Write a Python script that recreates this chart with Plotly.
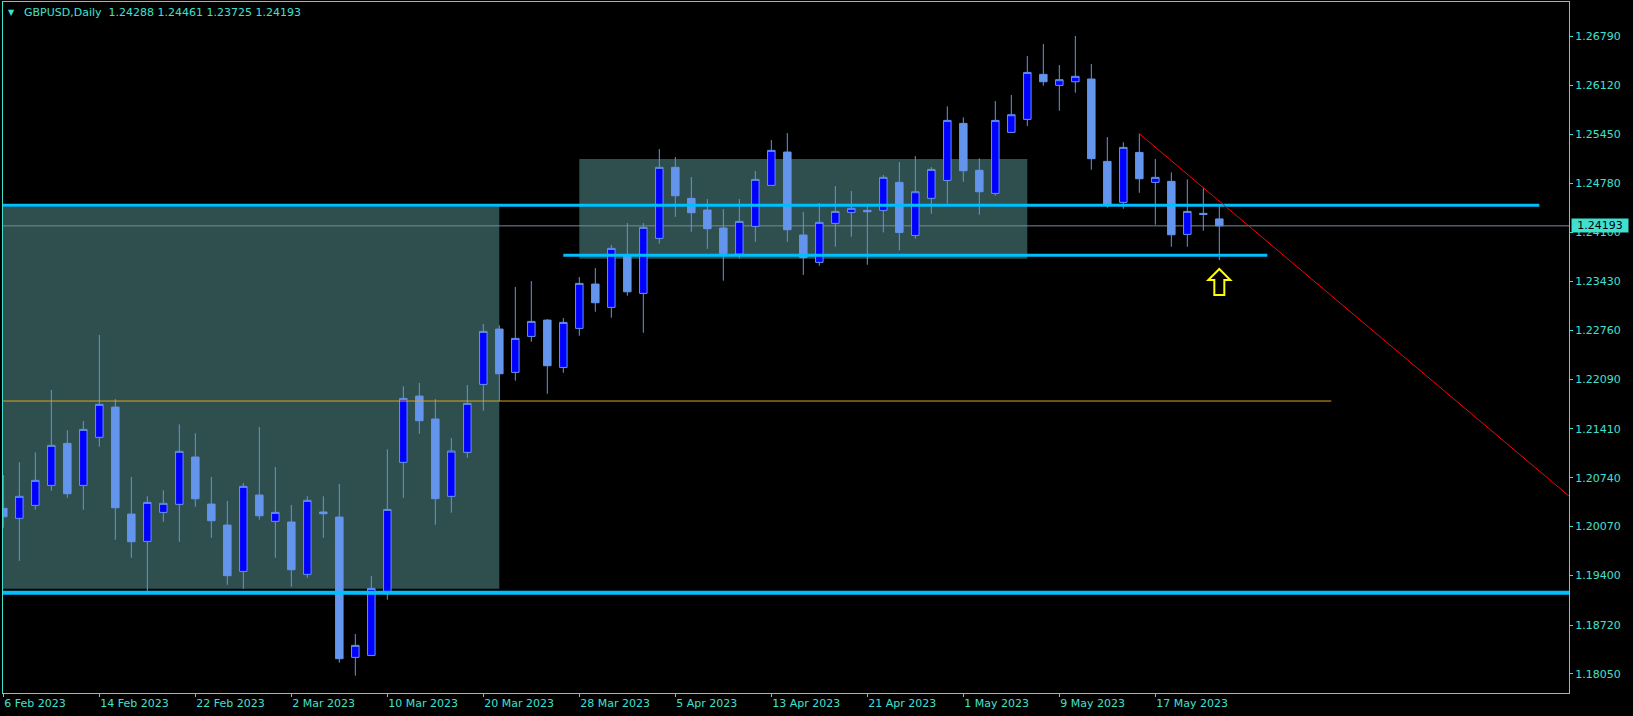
import numpy as np
import pandas as pd
import plotly.graph_objects as go

# ---------------- data (GBPUSD daily) ----------------
first_date = "2023-02-06"
dates = pd.bdate_range(first_date, periods=77)

opens = [1.20319, 1.20182, 1.20360, 1.20634, 1.21210, 1.20634, 1.21293, 1.21708, 1.20241, 1.19866,
         1.20264, 1.20374, 1.21023, 1.20378, 1.20090, 1.19455, 1.20502, 1.20141, 1.20132, 1.19414,
         1.20269, 1.20200, 1.18276, 1.18303, 1.19167, 1.20950, 1.21859, 1.21544, 1.20484, 1.21087,
         1.22019, 1.22778, 1.22184, 1.22677, 1.22901, 1.22252, 1.22787, 1.23395, 1.23075, 1.23786,
         1.23267, 1.24021, 1.24995, 1.24570, 1.24410, 1.24163, 1.23806, 1.24186, 1.24748, 1.25205,
         1.24067, 1.23692, 1.24227, 1.24378, 1.24405, 1.24405, 1.24789, 1.24062, 1.24570, 1.24816,
         1.25598, 1.24954, 1.24638, 1.25475, 1.25653, 1.26270, 1.26119, 1.26169, 1.26206, 1.25077,
         1.24515, 1.25200, 1.24789, 1.24803, 1.24076, 1.24364, 1.24288]
highs = [1.20776, 1.20950, 1.21087, 1.21942, 1.21389, 1.21516, 1.22696, 1.21818, 1.20749, 1.20484,
         1.20566, 1.21471, 1.21347, 1.20749, 1.20420, 1.20666, 1.21434, 1.20886, 1.20365, 1.20484,
         1.20484, 1.20653, 1.18596, 1.19391, 1.21128, 1.21992, 1.22038, 1.21818, 1.21283, 1.22010,
         1.22847, 1.22828, 1.23354, 1.23436, 1.22915, 1.22929, 1.23491, 1.23614, 1.23930, 1.24231,
         1.24231, 1.25246, 1.25136, 1.24862, 1.24560, 1.24423, 1.24560, 1.24944, 1.25369, 1.25465,
         1.24382, 1.24506, 1.24739, 1.24670, 1.24455, 1.24890, 1.25068, 1.25150, 1.24999, 1.25831,
         1.25680, 1.25118, 1.25904, 1.25987, 1.26521, 1.26686, 1.26398, 1.26796, 1.26412, 1.25411,
         1.25338, 1.25456, 1.25109, 1.24926, 1.24830, 1.24711, 1.24461]
lows = [1.20054, 1.19601, 1.20301, 1.20561, 1.20465, 1.20301, 1.21165, 1.19889, 1.19642, 1.19167,
        1.20136, 1.19862, 1.20342, 1.19917, 1.19272, 1.19217, 1.20164, 1.19642, 1.19245, 1.19368,
        1.19917, 1.18203, 1.18025, 1.18300, 1.19067, 1.20465, 1.21343, 1.20095, 1.20260, 1.21014,
        1.21658, 1.21791, 1.22070, 1.22604, 1.21891, 1.22179, 1.22687, 1.23016, 1.22933, 1.23235,
        1.22728, 1.23948, 1.24318, 1.24113, 1.23879, 1.23441, 1.23747, 1.23975, 1.24745, 1.23975,
        1.23520, 1.23646, 1.23907, 1.24044, 1.23660, 1.24103, 1.23857, 1.24017, 1.24359, 1.24497,
        1.24798, 1.24346, 1.24606, 1.25470, 1.25561, 1.26115, 1.25772, 1.26019, 1.24963, 1.24442,
        1.24428, 1.24647, 1.24209, 1.23907, 1.23907, 1.24126, 1.23725]
closes = [1.20205, 1.20484, 1.20703, 1.21183, 1.20520, 1.21402, 1.21745, 1.20328, 1.19862, 1.20401,
          1.20388, 1.21101, 1.20451, 1.20150, 1.19396, 1.20621, 1.20218, 1.20264, 1.19478, 1.20429,
          1.20246, 1.18258, 1.18441, 1.19222, 1.20305, 1.21827, 1.21521, 1.20452, 1.21105, 1.21759,
          1.22746, 1.22165, 1.22650, 1.22883, 1.22275, 1.22869, 1.23404, 1.23139, 1.23884, 1.23289,
          1.24172, 1.24995, 1.24606, 1.24373, 1.24154, 1.23815, 1.24254, 1.24830, 1.25228, 1.24140,
          1.23758, 1.24241, 1.24391, 1.24433, 1.24387, 1.24858, 1.24103, 1.24661, 1.24967, 1.25639,
          1.24949, 1.24661, 1.25639, 1.25717, 1.26297, 1.26169, 1.26197, 1.26243, 1.25114, 1.24474,
          1.25269, 1.24839, 1.24858, 1.24071, 1.24391, 1.24350, 1.24193]

tick_dates = ["2023-02-06", "2023-02-14", "2023-02-22", "2023-03-02", "2023-03-10", "2023-03-20",
              "2023-03-28", "2023-04-05", "2023-04-13", "2023-04-21", "2023-05-01", "2023-05-09",
              "2023-05-17"]
tick_labels = ["6 Feb 2023", "14 Feb 2023", "22 Feb 2023", "2 Mar 2023", "10 Mar 2023", "20 Mar 2023",
               "28 Mar 2023", "5 Apr 2023", "13 Apr 2023", "21 Apr 2023", "1 May 2023", "9 May 2023",
               "17 May 2023"]

price_ticks = [1.26790, 1.26120, 1.25450, 1.24780, 1.24100, 1.23430, 1.22760, 1.22090, 1.21410,
               1.20740, 1.20070, 1.19400, 1.18720, 1.18050]

# drawn objects (anchors by date / price)
zone_starts = ["2023-02-01", "2023-03-28"]
zone_ends = ["2023-03-21", "2023-05-05"]
zone_lows = [1.19217, 1.23742]
zone_highs = [1.24460, 1.25109]

level_starts = ["2023-02-01", "2023-03-27", "2023-02-01"]
level_ends = ["2023-06-20", "2023-05-26", "2023-08-31"]
level_prices = [1.24474, 1.23789, 1.19162]
level_widths = [3, 3, 4]

mid_level_start = "2023-02-01"
mid_level_end = "2023-06-01"
mid_level_price = 1.21791

trend_dates = ["2023-05-16", "2023-05-23"]
trend_prices = [1.25456, 1.24531]

# ---------------- styling ----------------
TURQ = "#40E0D0"
FONT = "DejaVu Sans"


def pos(d):
    return float(np.busday_count(np.datetime64(first_date), np.datetime64(d)))


x = [pos(d.strftime("%Y-%m-%d")) for d in dates]

fig = go.Figure()
fig.add_trace(go.Candlestick(
    x=x, open=opens, high=highs, low=lows, close=closes,
    increasing=dict(line=dict(color="#6495ED", width=1), fillcolor="#0000FF"),
    decreasing=dict(line=dict(color="#6495ED", width=1), fillcolor="#6495ED"),
    whiskerwidth=0, showlegend=False, hoverinfo="skip",
))

shapes = []
for s, e, lo, hi in zip(zone_starts, zone_ends, zone_lows, zone_highs):
    shapes.append(dict(type="rect", xref="x", yref="y", x0=pos(s), x1=pos(e), y0=lo, y1=hi,
                       fillcolor="#2F4F4F", line=dict(width=0), layer="below"))
# current price line (same layer as the zones, drawn after them)
shapes.append(dict(type="line", xref="x", yref="y", x0=-10, x1=120, y0=closes[-1], y1=closes[-1],
                   line=dict(color="#778899", width=1), layer="below"))
# orange level
shapes.append(dict(type="line", xref="x", yref="y", x0=pos(mid_level_start), x1=pos(mid_level_end),
                   y0=mid_level_price, y1=mid_level_price,
                   line=dict(color="#DAA520", width=1), layer="above"))
for s, e, p, w in zip(level_starts, level_ends, level_prices, level_widths):
    shapes.append(dict(type="line", xref="x", yref="y", x0=pos(s), x1=pos(e), y0=p, y1=p,
                       line=dict(color="#00BFFF", width=w), layer="above"))
# trend line (ray)
tx0, tx1 = pos(trend_dates[0]), pos(trend_dates[1])
slope = (trend_prices[1] - trend_prices[0]) / (tx1 - tx0)
ray_end = 105.0
shapes.append(dict(type="line", xref="x", yref="y", x0=tx0, y0=trend_prices[0],
                   x1=ray_end, y1=trend_prices[0] + slope * (ray_end - tx0),
                   line=dict(color="#FF0000", width=1), layer="above"))
# up-arrow marker under the last bar
shapes.append(dict(type="path", xref="x", yref="y", xsizemode="pixel", ysizemode="pixel",
                   xanchor=x[-1], yanchor=lows[-1],
                   path="M 0,-9 L 11,-20 L 5,-20 L 5,-35 L -5,-35 L -5,-20 L -11,-20 Z",
                   fillcolor="#000000", line=dict(color="#FFFF00", width=2), layer="above"))

W, H = 1633, 716
ML, MR, MT, MB = 3, 64, 2, 23
pw = W - ML - MR

annotations = [
    dict(xref="paper", yref="paper", x=(22 - ML) / pw, y=1 - (12.7 - MT) / (H - MT - MB),
         xanchor="left", yanchor="middle", showarrow=False,
         text="GBPUSD,Daily\u00a0\u00a0" + " ".join(f"{v:.5f}" for v in
                                                  (opens[-1], highs[-1], lows[-1], closes[-1])),
         font=dict(family=FONT, size=11, color=TURQ)),
    dict(xref="paper", yref="paper", x=(11 - ML) / pw, y=1 - (12 - MT) / (H - MT - MB),
         xanchor="center", yanchor="middle", showarrow=False, text="\u25BC",
         font=dict(family=FONT, size=8, color=TURQ)),
    dict(xref="paper", yref="y", x=1 + 2 / pw, y=closes[-1], xanchor="left", yanchor="middle",
         showarrow=False, text=f"{closes[-1]:.5f}", bgcolor=TURQ, width=56, height=13,
         borderpad=0, font=dict(family=FONT, size=11, color="#000000")),
]

fig.update_layout(
    width=W, height=H, margin=dict(l=ML, r=MR, t=MT, b=MB),
    paper_bgcolor="#000000", plot_bgcolor="#000000",
    shapes=shapes, annotations=annotations, hovermode=False,
    font=dict(family=FONT, size=11, color=TURQ),
    boxgap=0.33,
    xaxis=dict(range=[-0.02, 97.855], rangeslider=dict(visible=False),
               tickvals=[pos(d) for d in tick_dates], ticktext=tick_labels,
               ticks="outside", ticklen=3, tickcolor=TURQ, ticklabelposition="outside right",
               showline=True, mirror=True, linecolor=TURQ, linewidth=1,
               showgrid=False, zeroline=False, tickfont=dict(family=FONT, size=11, color=TURQ)),
    yaxis=dict(range=[1.177876, 1.272624], side="right",
               tickvals=price_ticks, ticktext=[f"{v:.5f}" for v in price_ticks],
               ticks="outside", ticklen=3, tickcolor=TURQ,
               showline=True, mirror=True, linecolor=TURQ, linewidth=1,
               showgrid=False, zeroline=False, tickfont=dict(family=FONT, size=11, color=TURQ)),
)

fig.write_html(
    "out.html",
    config={"displayModeBar": False},
    post_script="document.body.style.margin='0';document.body.style.overflow='hidden';",
)
